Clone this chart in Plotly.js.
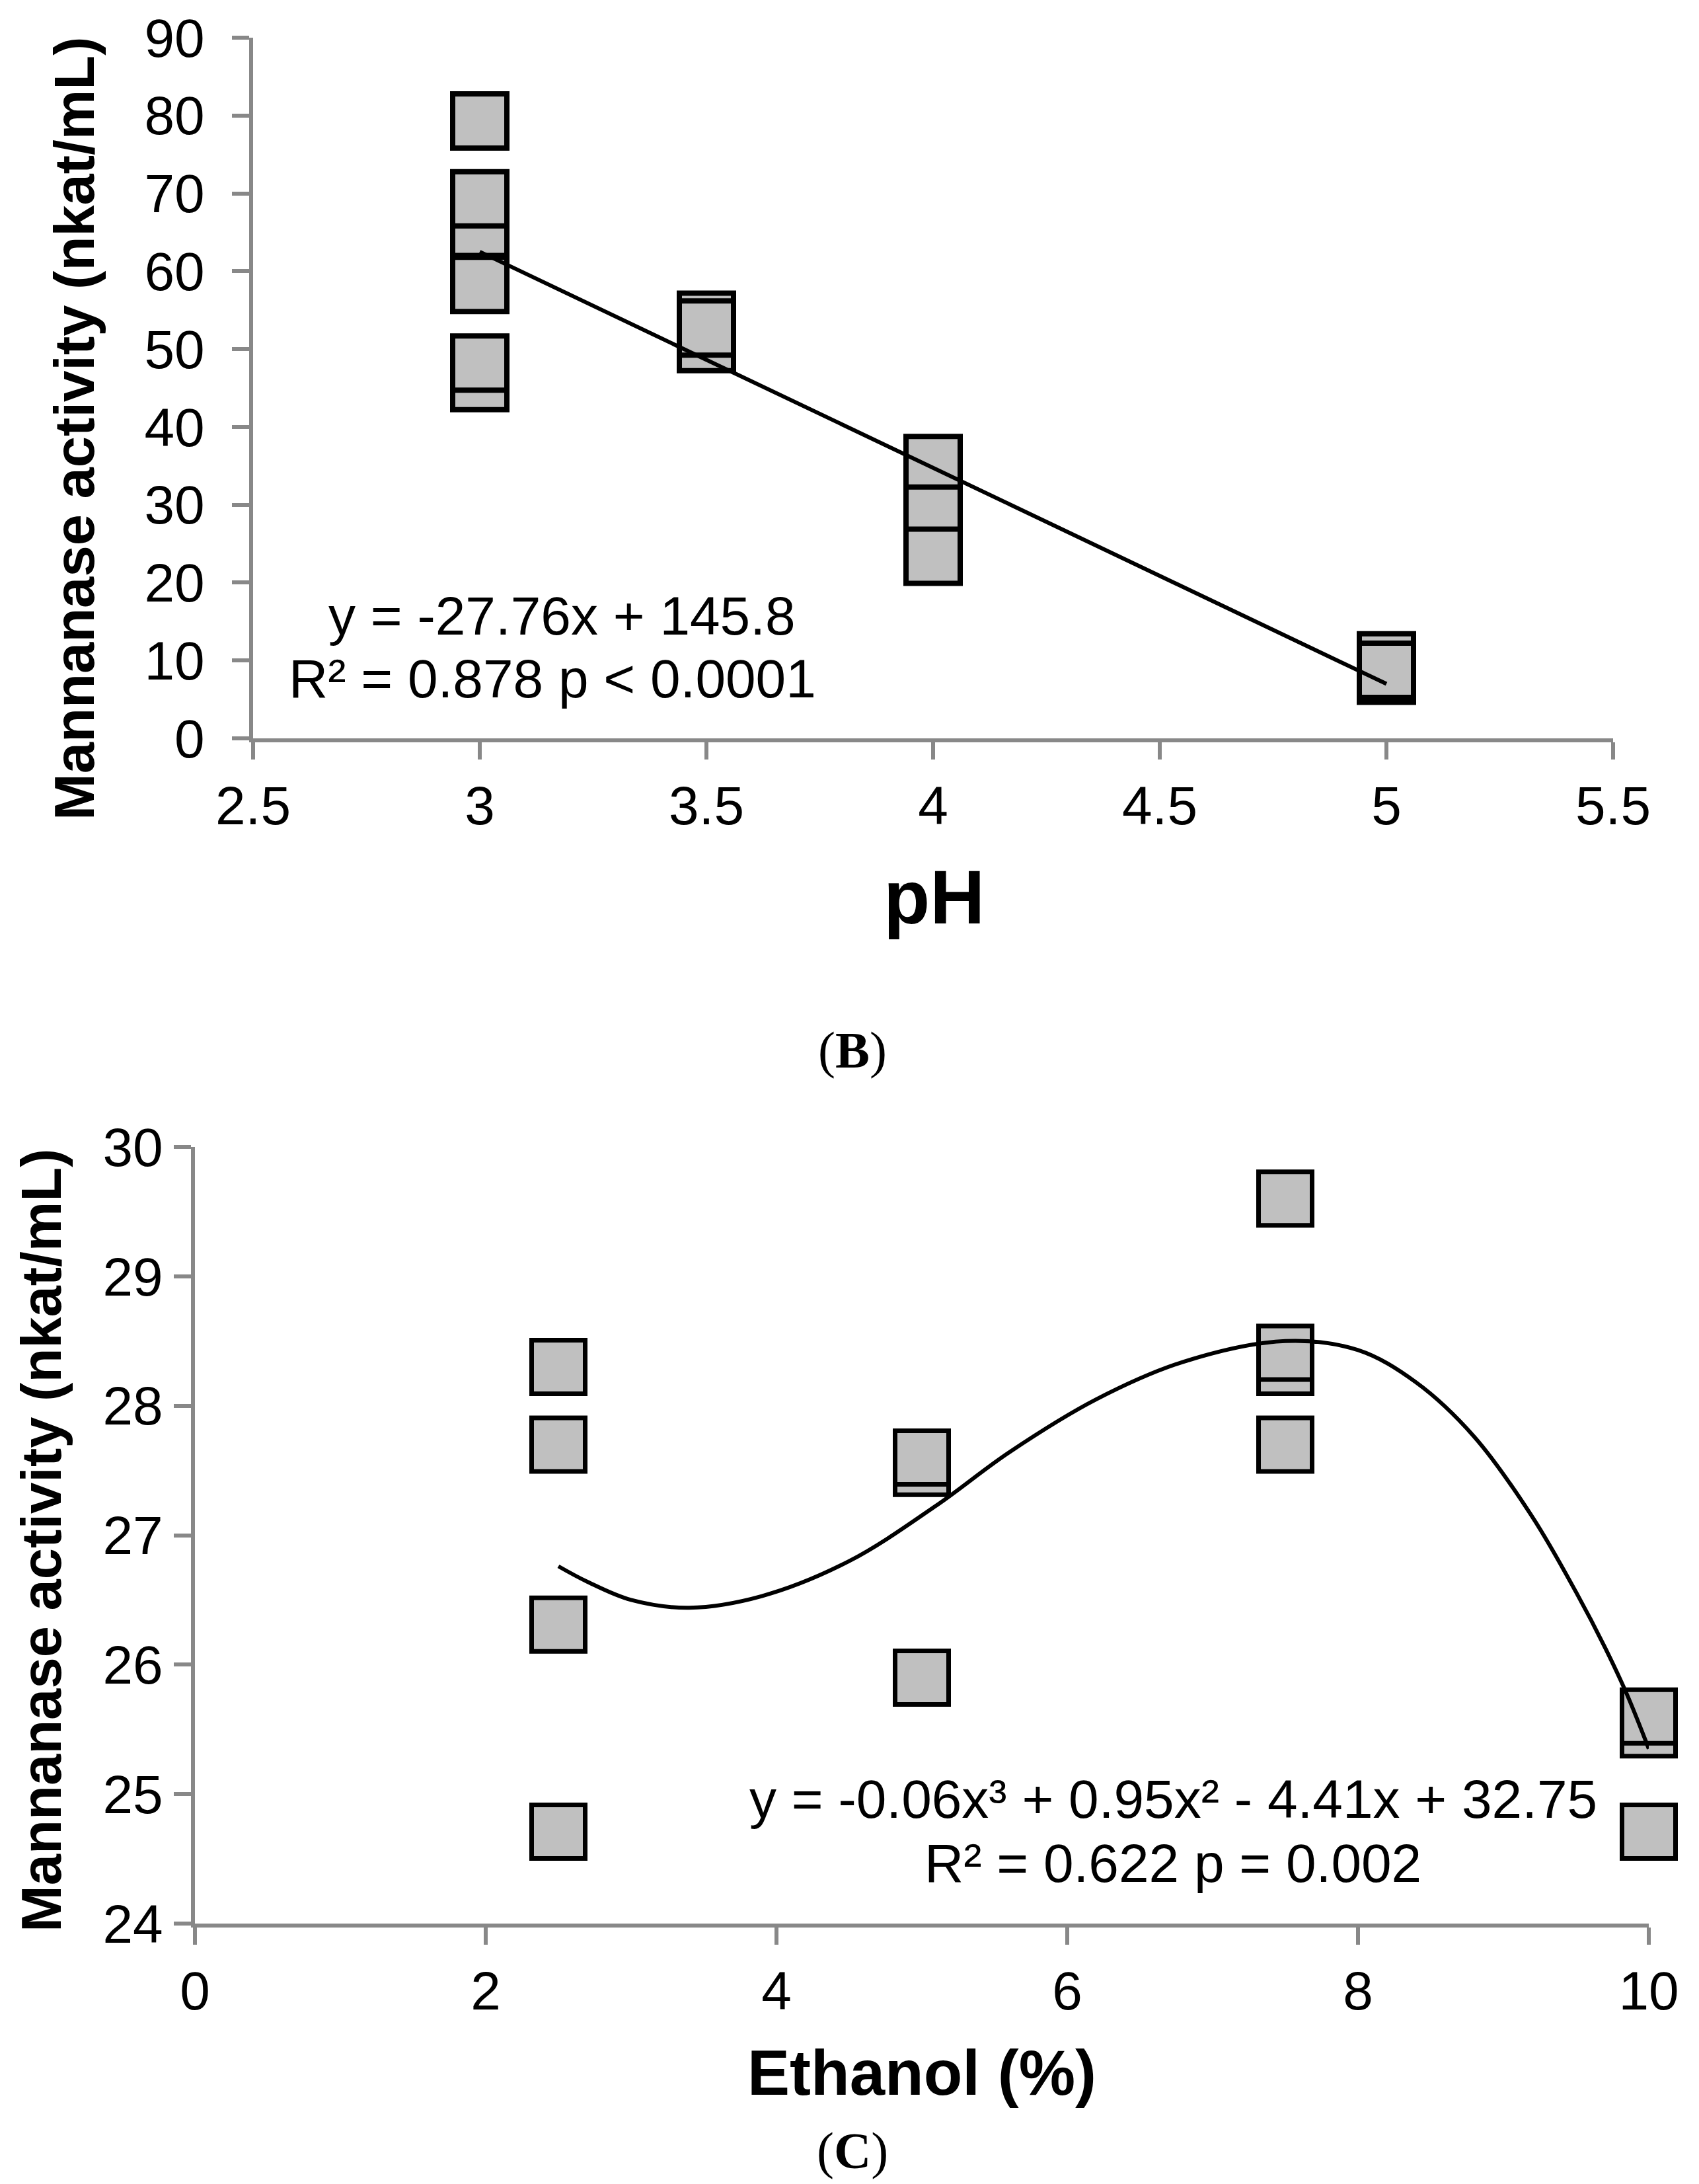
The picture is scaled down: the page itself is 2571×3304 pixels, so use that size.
<!DOCTYPE html>
<html>
<head>
<meta charset="utf-8">
<script src="https://cdn.plot.ly/plotly-3.0.1.min.js"></script>
<style>
  html, body { margin: 0; padding: 0; background: #fff; }
  #graph { width: 2571px; height: 3304px; }
</style>
</head>
<body>
<div id="graph"></div>
<script>
// (B) pH panel - replicates per pH, in drawing order (later ones sit on top)
var phX = [3, 3, 3, 3, 3, 3, 3.5, 3.5, 3.5, 4, 4, 4, 5, 5, 5];
var phActivity = [79.3, 65.5, 69.3, 58.3, 45.7, 48.2, 53.7, 50.7, 52.7, 35.3, 28.8, 23.4, 9.95, 8.1, 8.75];
// linear trend line, end points
var phFitX = [3, 5];
var phFitY = [62.5, 7.0];

// (C) ethanol panel
var ethX = [2.5, 2.5, 2.5, 2.5, 5, 5, 5, 7.5, 7.5, 7.5, 7.5, 10, 10, 10];
var ethActivity = [28.30, 27.70, 26.31, 24.71, 27.52, 27.60, 25.90, 29.60, 28.30, 28.41, 27.70, 25.50, 25.60, 24.71];
// polynomial trend curve
var ethFitX = [2.5, 2.7, 3.0, 3.4, 3.9, 4.5, 5.1, 5.6, 6.2, 6.8, 7.5, 8.0, 8.4, 8.8, 9.2, 9.5, 9.7, 9.85, 10];
var ethFitY = [26.76, 26.64, 26.50, 26.44, 26.53, 26.80, 27.23, 27.64, 28.05, 28.34, 28.50, 28.43, 28.18, 27.76, 27.14, 26.56, 26.13, 25.77, 25.35];

var phTicks = [2.5, 3, 3.5, 4, 4.5, 5, 5.5];
var ethTicks = [0, 2, 4, 6, 8, 10];

var W = 2571, H = 3304;
var sans = 'Liberation Sans, Arial, sans-serif';
var serif = 'Liberation Serif, Times New Roman, serif';
var axisGrey = '#888888';

// pixel spot on the page -> paper coords
function px(x) { return x / W; }
function py(y) { return 1 - y / H; }

var traces = [
    {
        x: phX, y: phActivity, xaxis: 'x', yaxis: 'y',
        type: 'scatter', mode: 'markers', cliponaxis: false,
        marker: { symbol: 'square', size: 82, color: '#c0c0c0', line: { color: '#000', width: 8 } }
    },
    {
        x: phFitX, y: phFitY, xaxis: 'x', yaxis: 'y',
        type: 'scatter', mode: 'lines',
        line: { color: '#000', width: 6 }
    },
    {
        x: ethX, y: ethActivity, xaxis: 'x2', yaxis: 'y2',
        type: 'scatter', mode: 'markers', cliponaxis: false,
        marker: { symbol: 'square', size: 81, color: '#c0c0c0', line: { color: '#000', width: 7 } }
    },
    {
        x: ethFitX, y: ethFitY, xaxis: 'x2', yaxis: 'y2',
        type: 'scatter', mode: 'lines', cliponaxis: false,
        line: { color: '#000', width: 6, shape: 'spline', smoothing: 1 }
    }
];

function axisStyle(extra) {
    var a = {
        showline: true, linecolor: axisGrey, linewidth: 6,
        ticks: 'outside', ticklen: 26, tickwidth: 6, tickcolor: axisGrey,
        showgrid: false, zeroline: false,
        tickfont: { family: sans, size: 82, color: '#000' },
        fixedrange: true
    };
    for (var k in extra) a[k] = extra[k];
    return a;
}

var layout = {
    width: W, height: H,
    margin: { l: 0, r: 0, t: 0, b: 0 },
    paper_bgcolor: '#fff', plot_bgcolor: '#fff',
    showlegend: false,
    xaxis: axisStyle({ domain: [px(383), px(2441)], range: [2.5, 5.5], tickvals: phTicks, anchor: 'y' }),
    yaxis: axisStyle({ domain: [py(1117), py(57)], range: [0, 90], dtick: 10, anchor: 'x', ticklabelstandoff: 25 }),
    xaxis2: axisStyle({ domain: [px(295), px(2495)], range: [0, 10], tickvals: ethTicks, anchor: 'y2' }),
    yaxis2: axisStyle({ domain: [py(2910), py(1735)], range: [24, 30], dtick: 1, anchor: 'x2' }),
    annotations: [
        // panel B texts
        { text: '<b>Mannanase activity (nkat/mL)</b>', textangle: -90, xref: 'paper', yref: 'paper',
          x: px(112), y: py(648), xanchor: 'center', yanchor: 'middle', showarrow: false,
          font: { family: sans, size: 85, color: '#000' } },
        { text: '<b>pH</b>', xref: 'paper', yref: 'paper', x: px(1413), y: py(1357),
          xanchor: 'center', yanchor: 'middle', showarrow: false,
          font: { family: sans, size: 115, color: '#000' } },
        { text: 'y = -27.76x + 145.8', xref: 'paper', yref: 'paper', x: px(850), y: py(931),
          xanchor: 'center', yanchor: 'middle', showarrow: false,
          font: { family: sans, size: 82, color: '#000' } },
        { text: 'R² = 0.878 p < 0.0001', xref: 'paper', yref: 'paper', x: px(836), y: py(1026),
          xanchor: 'center', yanchor: 'middle', showarrow: false,
          font: { family: sans, size: 82, color: '#000' } },
        { text: '(<b>B</b>)', xref: 'paper', yref: 'paper', x: px(1290), y: py(1589),
          xanchor: 'center', yanchor: 'middle', showarrow: false,
          font: { family: serif, size: 78, color: '#000' } },
        // panel C texts
        { text: '<b>Mannanase activity (nkat/mL)</b>', textangle: -90, xref: 'paper', yref: 'paper',
          x: px(62), y: py(2330), xanchor: 'center', yanchor: 'middle', showarrow: false,
          font: { family: sans, size: 85, color: '#000' } },
        { text: '<b>Ethanol (%)</b>', xref: 'paper', yref: 'paper', x: px(1395), y: py(3135),
          xanchor: 'center', yanchor: 'middle', showarrow: false,
          font: { family: sans, size: 96, color: '#000' } },
        { text: 'y = -0.06x³ + 0.95x² - 4.41x + 32.75', xref: 'paper', yref: 'paper', x: px(1775), y: py(2721),
          xanchor: 'center', yanchor: 'middle', showarrow: false,
          font: { family: sans, size: 82, color: '#000' } },
        { text: 'R² = 0.622 p = 0.002', xref: 'paper', yref: 'paper', x: px(1775), y: py(2818),
          xanchor: 'center', yanchor: 'middle', showarrow: false,
          font: { family: sans, size: 82, color: '#000' } },
        { text: '(<b>C</b>)', xref: 'paper', yref: 'paper', x: px(1290), y: py(3253),
          xanchor: 'center', yanchor: 'middle', showarrow: false,
          font: { family: serif, size: 78, color: '#000' } }
    ]
};

Plotly.newPlot('graph', traces, layout, { displayModeBar: false, staticPlot: true });
</script>
</body>
</html>
